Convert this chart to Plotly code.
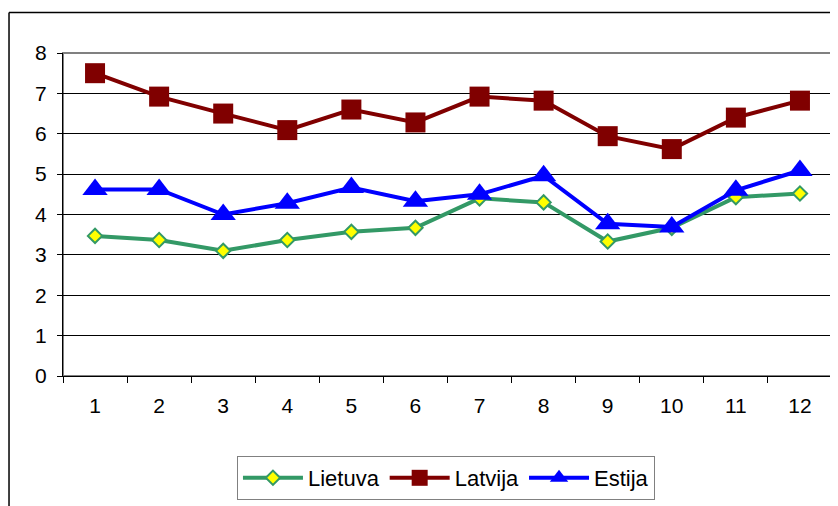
import plotly.graph_objects as go

months = [1, 2, 3, 4, 5, 6, 7, 8, 9, 10, 11, 12]
lietuva = [3.47, 3.37, 3.1, 3.37, 3.57, 3.67, 4.4, 4.3, 3.33, 3.67, 4.43, 4.52]
latvija = [7.5, 6.92, 6.5, 6.09, 6.6, 6.28, 6.92, 6.82, 5.94, 5.62, 6.4, 6.82]
estija = [4.62, 4.62, 4.0, 4.28, 4.67, 4.33, 4.5, 4.96, 3.77, 3.69, 4.6, 5.09]

x = [str(m) for m in months]

lt = go.Scatter(
    name='Lietuva', x=x, y=lietuva, mode='lines+markers',
    line={'color': '#339966', 'width': 4},
    marker={'symbol': 'diamond', 'size': 11, 'color': '#FFFF00',
            'line': {'color': '#339966', 'width': 2}},
)
lv = go.Scatter(
    name='Latvija', x=x, y=latvija, mode='lines+markers',
    line={'color': '#800000', 'width': 4},
    marker={'symbol': 'square', 'size': 20, 'color': '#800000'},
)
ee = go.Scatter(
    name='Estija', x=x, y=estija, mode='lines+markers',
    line={'color': '#0000FF', 'width': 4},
    marker={'symbol': 'triangle-up', 'size': 22, 'color': '#0000FF'},
)

# page body has an 8px margin, so the figure is sized/offset to fit
layout = go.Layout(
    width=830, height=498,
    margin={'l': 55, 'r': 6, 't': 45, 'b': 126},
    paper_bgcolor='white', plot_bgcolor='white',
    font={'family': 'Liberation Sans, Arial, sans-serif', 'size': 21, 'color': 'black'},
    showlegend=True,
    legend={'orientation': 'h', 'x': 0.498, 'xanchor': 'center',
            'y': -0.2477, 'yanchor': 'top',
            'bordercolor': '#808080', 'borderwidth': 1,
            'font': {'size': 22}, 'itemwidth': 60, 'tracegroupgap': 0},
    xaxis={'type': 'category', 'range': [-0.5, 11.5], 'tickson': 'boundaries',
           'ticks': 'outside', 'ticklen': 6, 'tickcolor': 'black',
           'showline': True, 'linecolor': 'black', 'linewidth': 1,
           'showgrid': False, 'ticklabelstandoff': 11,
           'tickfont': {'size': 21}},
    yaxis={'range': [0, 8], 'dtick': 1, 'ticks': 'outside', 'ticklen': 5,
           'tickcolor': 'black', 'showline': True, 'linecolor': 'black',
           'linewidth': 1, 'showgrid': True, 'gridcolor': 'black',
           'gridwidth': 1, 'zeroline': False, 'ticklabelstandoff': 6,
           'tickfont': {'size': 21}},
)

fig = go.Figure(data=[lt, lv, ee], layout=layout)
# plot area border
fig.add_shape(type='rect', xref='paper', yref='paper', x0=0, x1=1, y0=0, y1=1,
              line={'color': '#808080', 'width': 2}, layer='below')
# chart frame (left and top edges visible)
fig.add_shape(type='line', xref='paper', yref='paper', x0=-0.0702, x1=-0.0702,
              y0=-0.5, y1=1.1254, line={'color': 'black', 'width': 1.5})
fig.add_shape(type='line', xref='paper', yref='paper', x0=-0.0702, x1=1.05,
              y0=1.1254, y1=1.1254, line={'color': 'black', 'width': 1.5})

fig.write_html('out.html')
